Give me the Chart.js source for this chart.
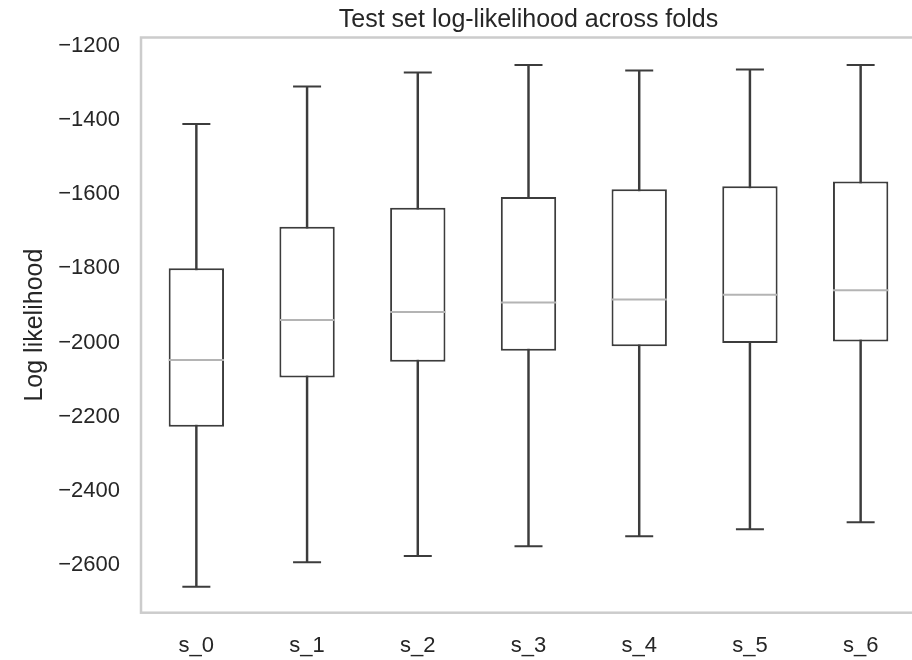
<!DOCTYPE html>
<html>
<head>
<meta charset="utf-8">
<title>Test set log-likelihood across folds</title>
<script src="https://cdn.jsdelivr.net/npm/chart.js@4.4.1/dist/chart.umd.min.js"></script>
<style>
  html, body { margin: 0; padding: 0; background: #fff; overflow: hidden; }
  #wrap { width: 920px; height: 660px; }
</style>
</head>
<body>
<div id="wrap"><canvas id="folds" width="920" height="660"></canvas></div>
<script>
// box stats, one entry per fold
const folds = ['s_0', 's_1', 's_2', 's_3', 's_4', 's_5', 's_6'];
const whiskerLow  = [-2658, -2592, -2575, -2549, -2522, -2503, -2484];
const q1          = [-2227, -2094, -2052, -2022, -2010, -2001, -1997];
const median      = [-2047, -1939, -1918, -1892, -1884, -1871, -1859];
const q3          = [-1800, -1688, -1637, -1608, -1587, -1579, -1566];
const whiskerHigh = [-1411, -1310, -1272, -1252, -1267, -1264, -1252];

const yTicks = [-2600, -2400, -2200, -2000, -1800, -1600, -1400, -1200];
const yMin = -2728;
const yMax = -1178;

const ink = '#3c3c3c';
const textColor = '#262626';
const fontFamily = "'Liberation Sans', Arial, Helvetica, sans-serif";

const frame = {
    id: 'frame',
    afterDatasetsDraw(chart) {
        const {ctx, chartArea: a} = chart;
        ctx.save();
        ctx.strokeStyle = '#cccccc';
        ctx.lineWidth = 2.5;
        ctx.strokeRect(a.left, a.top, a.right - a.left, a.bottom - a.top);
        ctx.restore();
    }
};

const capStyle = {
    type: 'line',
    showLine: false,
    pointStyle: 'line',
    pointRadius: 14,
    pointBorderWidth: 2,
    pointBorderColor: ink,
    order: 1
};

const chart = new Chart('folds', {
    type: 'bar',
    data: {
        labels: folds,
        datasets: [
            {
                label: 'whisker',
                data: folds.map((f, i) => [whiskerLow[i], whiskerHigh[i]]),
                backgroundColor: ink,
                borderWidth: 0,
                barThickness: 1.8,
                grouped: false,
                order: 3
            },
            {
                label: 'box',
                data: folds.map((f, i) => [q1[i], q3[i]]),
                backgroundColor: '#ffffff',
                borderColor: ink,
                borderWidth: 2,
                borderSkipped: false,
                barPercentage: 0.5,
                categoryPercentage: 1,
                grouped: false,
                order: 2
            },
            Object.assign({label: 'max', data: whiskerHigh}, capStyle),
            Object.assign({label: 'min', data: whiskerLow}, capStyle),
            {
                label: 'median',
                type: 'line',
                data: median,
                showLine: false,
                pointStyle: 'line',
                pointRadius: 27.7,
                pointBorderWidth: 2,
                pointBorderColor: '#b4b4b4',
                order: 0
            }
        ]
    },
    options: {
        responsive: false,
        devicePixelRatio: 1,
        animation: false,
        events: [],
        layout: {autoPadding: false, padding: {left: 0, right: 4, top: 0, bottom: 0}},
        plugins: {
            legend: {display: false},
            tooltip: {enabled: false},
            title: {
                display: true,
                text: 'Test set log-likelihood across folds',
                fullSize: false,
                color: textColor,
                font: {family: fontFamily, size: 25, weight: 'normal', lineHeight: 1.2},
                padding: {top: 5, bottom: 2.5}
            }
        },
        scales: {
            x: {
                grid: {display: false, drawTicks: false},
                border: {display: false},
                ticks: {
                    color: textColor,
                    padding: 20,
                    font: {family: fontFamily, size: 22}
                },
                afterFit(scale) {
                    scale.height = 47.3;
                    scale.paddingLeft = 0;
                    scale.paddingRight = 0;
                }
            },
            y: {
                min: yMin,
                max: yMax,
                grid: {display: false, drawTicks: false},
                border: {display: false},
                afterBuildTicks(scale) {
                    scale.ticks = yTicks.map(v => ({value: v}));
                },
                ticks: {
                    color: textColor,
                    padding: 21,
                    font: {family: fontFamily, size: 22},
                    callback: v => v < 0 ? '\u2212' + Math.abs(v) : String(v)
                },
                title: {
                    display: true,
                    text: 'Log likelihood',
                    color: textColor,
                    font: {family: fontFamily, size: 25, lineHeight: 1.2},
                    padding: {top: 20, bottom: 0}
                },
                afterFit(scale) {
                    scale.width = 141;
                    scale.paddingTop = 0;
                    scale.paddingBottom = 0;
                }
            }
        }
    },
    plugins: [frame]
});
</script>
</body>
</html>
